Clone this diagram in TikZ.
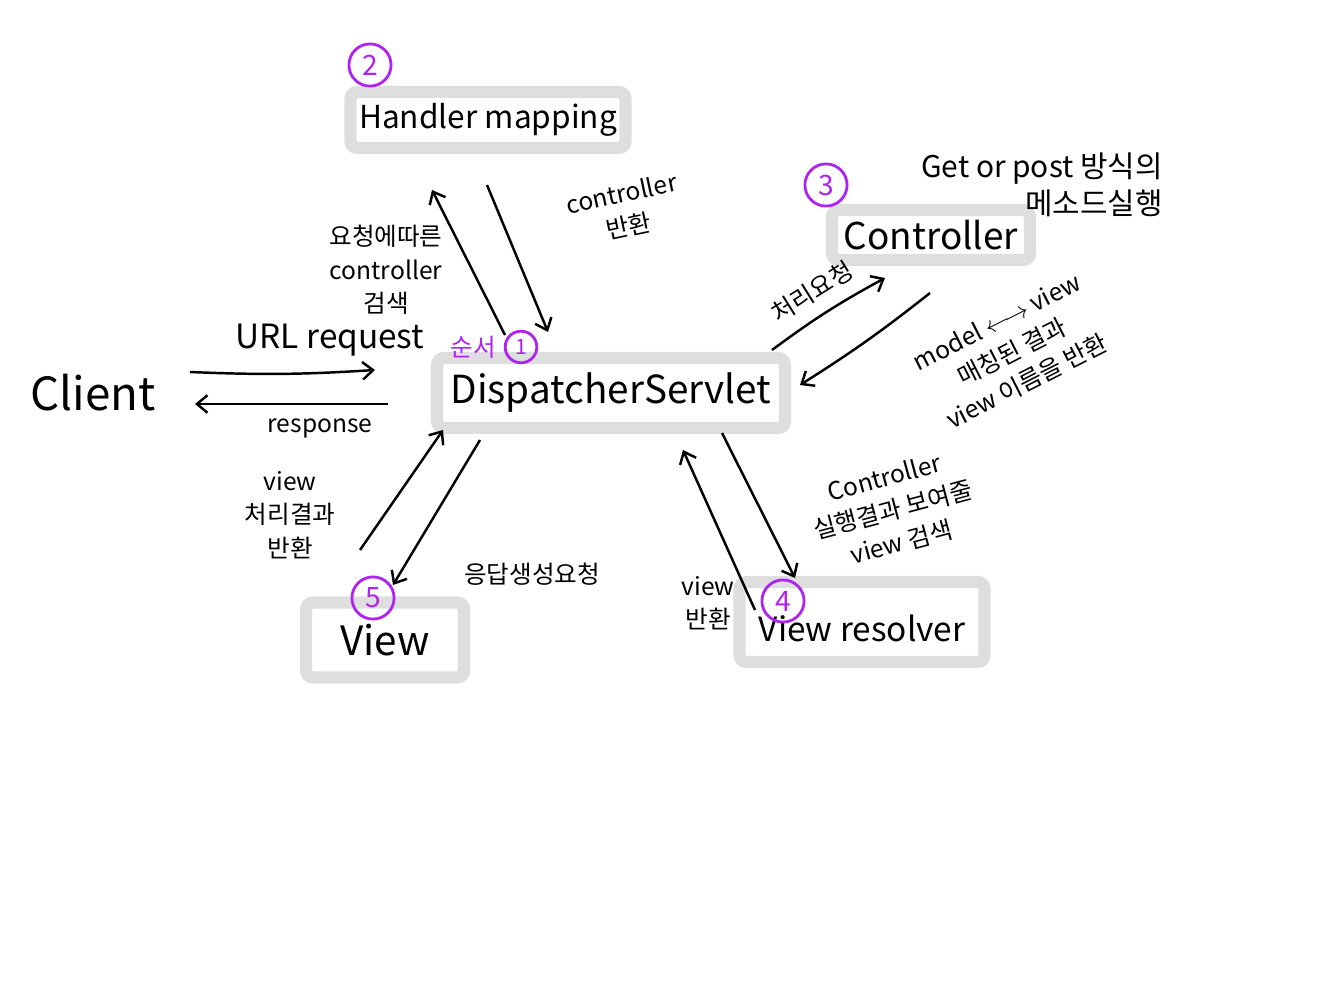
\documentclass[tikz,border=0pt]{standalone}
\usepackage{fontspec}
\setmainfont{Noto Sans CJK KR}
\usetikzlibrary{arrows.meta, positioning}
\definecolor{boxgray}{RGB}{222,222,222}
\definecolor{steppurple}{RGB}{175,35,240}

\begin{document}
\begin{tikzpicture}[x=0.02cm, y=-0.02cm,
    comp/.style={draw=boxgray, line width=7pt, rounded corners=4pt,
                 align=center, inner sep=0pt},
    note/.style={align=center, font=\fontsize{14}{19}\selectfont},
    stepnum/.style={circle, draw=steppurple, text=steppurple, line width=1.6pt,
                    inner sep=0pt, minimum size=24pt, font=\fontsize{16}{16}\selectfont},
    flow/.style={-{Straight Barb[length=6pt, width=10pt]}, line width=1.4pt}]
  \useasboundingbox (0,0) rectangle (1332,1000);

  % components
  \node[comp, minimum width=5.5cm, minimum height=1.12cm,
        font=\fontsize{18}{18}\selectfont] (hm) at (488,120) {Handler mapping};
  \node[comp, minimum width=3.96cm, minimum height=1.0cm,
        font=\fontsize{21}{21}\selectfont] (ctrl) at (931,235) {Controller};
  \node[comp, minimum width=6.96cm, minimum height=1.4cm,
        font=\fontsize{22}{22}\selectfont] (ds) at (611,393) {DispatcherServlet};
  \node[comp, minimum width=4.9cm, minimum height=1.6cm,
        font=\fontsize{19}{19}\selectfont] (vr) at (862,622)
        {\raisebox{-11pt}[0pt][0pt]{View resolver}};
  \node[comp, minimum width=3.16cm, minimum height=1.5cm,
        font=\fontsize{23}{23}\selectfont] (view) at (385,640) {View};
  \node[font=\fontsize{26}{26}\selectfont] (client) at (93,393) {Client};

  % order marks
  \node[stepnum] (n2) at (370,65) {2};
  \node[stepnum] (n3) at (826,185) {3};
  \node[stepnum] (n4) at (783,601) {4};
  \node[stepnum] (n5) at (373,598) {5};
  \node[stepnum, minimum size=18pt, font=\fontsize{12}{12}\selectfont] (n1) at (521,347) {1};
  \node[text=steppurple, font=\fontsize{14}{14}\selectfont, left=1pt of n1] (order) {순서};

  % arrow ends
  \coordinate (reqA) at (190,372);  \coordinate (reqB) at (375,370);
  \coordinate (resA) at (388,404);  \coordinate (resB) at (195,404);
  \coordinate (hmUpA) at (505,335); \coordinate (hmUpB) at (432,190);
  \coordinate (hmDnA) at (487,185); \coordinate (hmDnB) at (548,332);
  \coordinate (ctReqA) at (772,350); \coordinate (ctReqB) at (885,278);
  \coordinate (ctRetA) at (930,293); \coordinate (ctRetB) at (800,385);
  \coordinate (vrDnA) at (722,433); \coordinate (vrDnB) at (795,578);
  \coordinate (vrUpA) at (755,610); \coordinate (vrUpB) at (683,450);
  \coordinate (vwUpA) at (360,550); \coordinate (vwUpB) at (443,430);
  \coordinate (vwDnA) at (480,440); \coordinate (vwDnB) at (393,585);

  \draw[flow] (reqA) to[bend right=3] (reqB);
  \draw[flow] (resA) -- (resB);
  \draw[flow] (hmUpA) -- (hmUpB);
  \draw[flow] (hmDnA) -- (hmDnB);
  \draw[flow] (ctReqA) to[bend left=4] (ctReqB);
  \draw[flow] (ctRetA) to[bend left=3] (ctRetB);
  \draw[flow] (vrDnA) -- (vrDnB);
  \draw[flow] (vrUpA) -- (vrUpB);
  \draw[flow] (vwUpA) -- (vwUpB);
  \draw[flow] (vwDnA) -- (vwDnB);

  % labels
  \node[font=\fontsize{19}{19}\selectfont] (reqlbl) at (330,340) {URL request};
  \node[font=\fontsize{14}{14}\selectfont] (reslbl) at (320,428) {response};
  \node[note] (hmUpLbl) at (386,270) {요청에따른\\controller\\검색};
  \node[note, rotate=12] (hmDnLbl) at (625,210) {controller\\반환};
  \node[note, rotate=32] (ctReqLbl) at (812,292) {처리요청};
  \node[note, rotate=27] (ctRetLbl) at (1012,352) {model \(\longleftrightarrow\) view\\매칭된 결과\\view 이름을 반환};
  \node[align=right, font=\fontsize{17}{21}\selectfont] (ctNote) at (1042,185) {Get or post 방식의\\메소드실행};
  \node[note, rotate=15] (vrDnLbl) at (893,510) {Controller\\실행결과 보여줄\\view 검색};
  \node[note] (vrUpLbl) at (708,603) {view\\반환};
  \node[note] (vwUpLbl) at (290,515) {view\\처리결과\\반환};
  \node[note] (vwDnLbl) at (532,574) {응답생성요청};
\end{tikzpicture}
\end{document}
